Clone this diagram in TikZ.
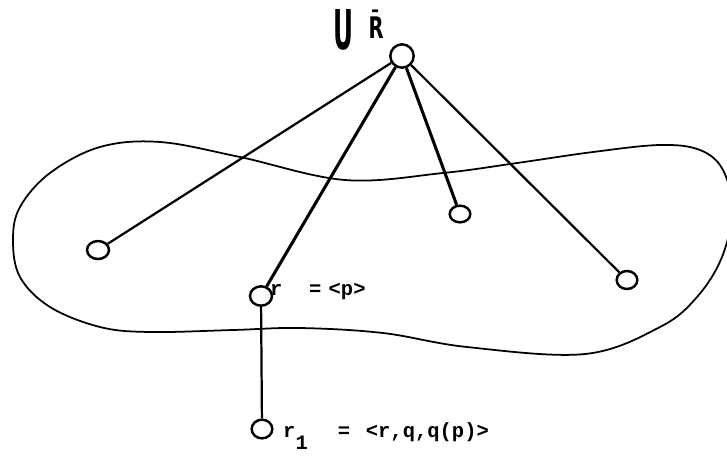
\documentclass[tikz,border=0pt]{standalone}
\usepackage{fontspec}
\setmonofont{Liberation Mono}
\setsansfont{DejaVu Sans}
\usetikzlibrary{shapes.geometric}
\begin{document}
\begin{tikzpicture}[x=0.03cm,y=-0.03cm,
  vtx/.style={draw,ellipse,line width=2.1pt,inner sep=0pt},
  edge/.style={line width=2.6pt},
  thinedge/.style={line width=1.9pt},
  lbl/.style={font=\ttfamily\bfseries\fontsize{17.5}{19}\selectfont,inner sep=0pt,anchor=base west},
  hand/.style={font=\sffamily\bfseries\fontsize{30}{32}\selectfont,inner sep=0pt}]
\useasboundingbox (0,0) rectangle (727,462);
\clip (0,0) rectangle (727,462);
% blob
\draw[line width=1.5pt] plot[smooth cycle, tension=0.6] coordinates {
 (13,240) (20,207) (50,173) (100,147) (160,142) (240,157) (345,180)
 (443,173) (517,163) (593,152) (660,145) (700,150) (723,170) (732,210)
 (722,257) (697,297) (660,327) (585,354) (467,347) (383,333)
 (300,328) (233,330) (150,332) (100,327) (50,307) (20,277)};
% nodes
\node[draw,circle,line width=2.1pt,minimum size=0.7cm,inner sep=0pt,fill=white] (top) at (402,56) {};
\node[vtx,minimum width=0.66cm,minimum height=0.54cm] (left) at (98,250) {};
\node[vtx,minimum width=0.66cm,minimum height=0.58cm] (r) at (261,296) {};
\node[vtx,minimum width=0.62cm,minimum height=0.5cm] (mid) at (460,214) {};
\node[vtx,minimum width=0.62cm,minimum height=0.54cm] (right) at (627,280) {};
\node[vtx,minimum width=0.62cm,minimum height=0.56cm] (r1) at (262,429) {};
% edges
\draw[thinedge] (top) -- (left);
\draw[edge] (top) -- (r);
\draw[edge] (top) -- (mid);
\draw[thinedge] (top) -- (right);
\draw[thinedge] (r) -- (r1);
% labels
\node[lbl] (rl) at (270,295) {r\hspace{1.3em}=\hspace{0.35em}<p>};
\node[lbl] (r1l) at (283,437) {r\raisebox{-11pt}{1}\hspace{1.47em}=\hspace{0.76em}<r,q,q(p)>};
\node[hand] (U) at (343,30) {\resizebox{0.6cm}{1.2cm}{U}};
\node[hand] (R) at (376,24) {\resizebox{0.45cm}{0.84cm}{\={R}}};
\end{tikzpicture}
\end{document}
